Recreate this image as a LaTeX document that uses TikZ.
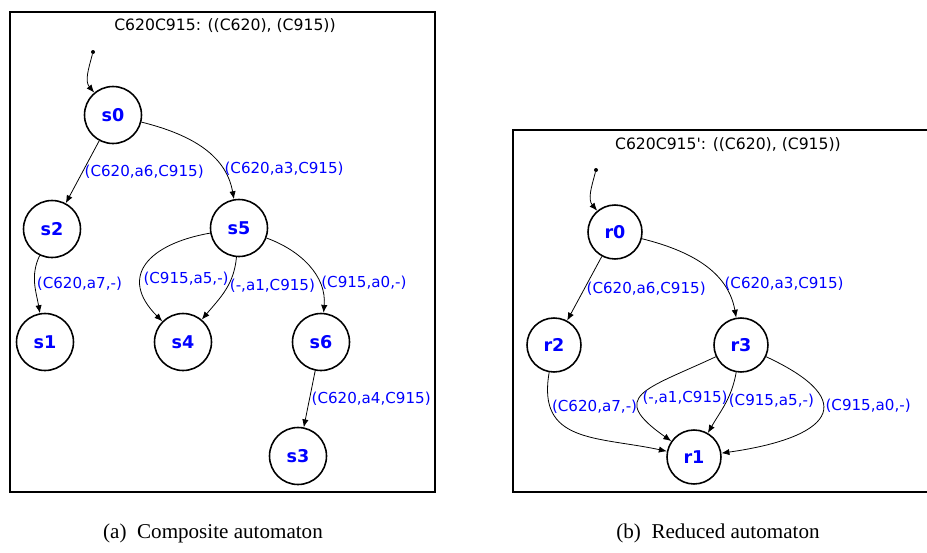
\documentclass[tikz,border=0pt]{standalone}
\usepackage{fontspec}
\setmainfont{Liberation Serif}
\newfontfamily\autfont{DejaVu Sans}
\usetikzlibrary{arrows.meta}

\definecolor{autblue}{RGB}{0,0,255}

\tikzset{
  state/.style={circle,draw=black,line width=0.9pt,minimum size=1.14cm,inner sep=0pt,
    text=autblue,font=\autfont\bfseries\fontsize{10}{12}\selectfont},
  smallstate/.style={state,minimum size=1.08cm},
  initdot/.style={circle,fill=black,minimum size=0.08cm,inner sep=0pt},
  trans/.style={-{Latex[length=4.5pt,width=3.6pt]},line width=0.45pt},
  lbl/.style={text=autblue,font=\autfont\fontsize{8.6}{10}\selectfont,inner sep=1pt},
  boxtitle/.style={font=\autfont\fontsize{8.9}{10}\selectfont,inner sep=0pt},
  frame/.style={line width=1.6pt},
  caption/.style={font=\fontsize{12}{14}\selectfont,inner sep=0pt}
}

\begin{document}
\begin{tikzpicture}[x=0.02cm,y=0.02cm]
    \useasboundingbox (0,0) rectangle (927,-552);

    % (a) composite automaton
    \draw[frame] (10,-12) rectangle (435,-492);
    \node[boxtitle] (titleA) at (225,-26) {C620C915: ((C620), (C915))};

    \node[initdot] (iA) at (93,-52) {};
    \node[state] (s0) at (113,-115) {s0};
    \node[state] (s2) at (52,-229) {s2};
    \node[state] (s5) at (239,-228) {s5};
    \node[state] (s1) at (45,-342) {s1};
    \node[state] (s4) at (183,-342) {s4};
    \node[state] (s6) at (321,-342) {s6};
    \node[state] (s3) at (298,-456) {s3};

    \draw[trans] (iA) to[out=-105,in=130] (s0);
    \draw[trans] (s0) -- node[lbl,right,pos=0.5]{(C620,a6,C915)} (s2);
    \draw[trans] (s0) to[out=-14,in=100] node[lbl,right,pos=0.75]{(C620,a3,C915)} (s5);
    \draw[trans] (s2) to[out=-115,in=100] node[lbl,right,pos=0.5]{(C620,a7,-)} (s1);
    \draw[trans] (s5) to[out=190,in=135,looseness=1.6] node[lbl,right,pos=0.64]{(C915,a5,-)} (s4);
    \draw[trans] (s5) to[out=-95,in=50] node[lbl,right,pos=0.42]{(-,a1,C915)} (s4);
    \draw[trans] (s5) to[out=-20,in=85] node[lbl,right,pos=0.7]{(C915,a0,-)} (s6);
    \draw[trans] (s6) -- node[lbl,right,pos=0.5]{(C620,a4,C915)} (s3);

    % (b) reduced automaton
    \draw[frame] (935,-130) -- (513,-130) -- (513,-492) -- (935,-492);
    \node[boxtitle] (titleB) at (728,-145) {C620C915': ((C620), (C915))};

    \node[initdot] (iB) at (596,-170) {};
    \node[smallstate] (r0) at (615,-232) {r0};
    \node[smallstate] (r2) at (554,-345) {r2};
    \node[smallstate] (r3) at (741,-345) {r3};
    \node[smallstate] (r1) at (694,-457) {r1};

    \draw[trans] (iB) to[out=-105,in=130] (r0);
    \draw[trans] (r0) -- node[lbl,right,pos=0.5]{(C620,a6,C915)} (r2);
    \draw[trans] (r0) to[out=-14,in=100] node[lbl,right,pos=0.72]{(C620,a3,C915)} (r3);
    \draw[trans] (r2) to[out=-100,in=168,looseness=1.3] node[lbl,right,pos=0.2]{(C620,a7,-)} (r1);
    \draw[trans] (r3) to[out=205,in=145,looseness=2.1] node[lbl,right,pos=0.55]{(-,a1,C915)} (r1);
    \draw[trans] (r3) to[out=-100,in=60] node[lbl,right,pos=0.45]{(C915,a5,-)} (r1);
    \draw[trans] (r3) to[out=-25,in=8,looseness=2.6] node[lbl,right,pos=0.4]{(C915,a0,-)} (r1);

    % captions
    \node[caption] (capA) at (213,-533) {(a)\ \ Composite automaton};
    \node[caption] (capB) at (718,-533) {(b)\ \ Reduced automaton};
\end{tikzpicture}
\end{document}
